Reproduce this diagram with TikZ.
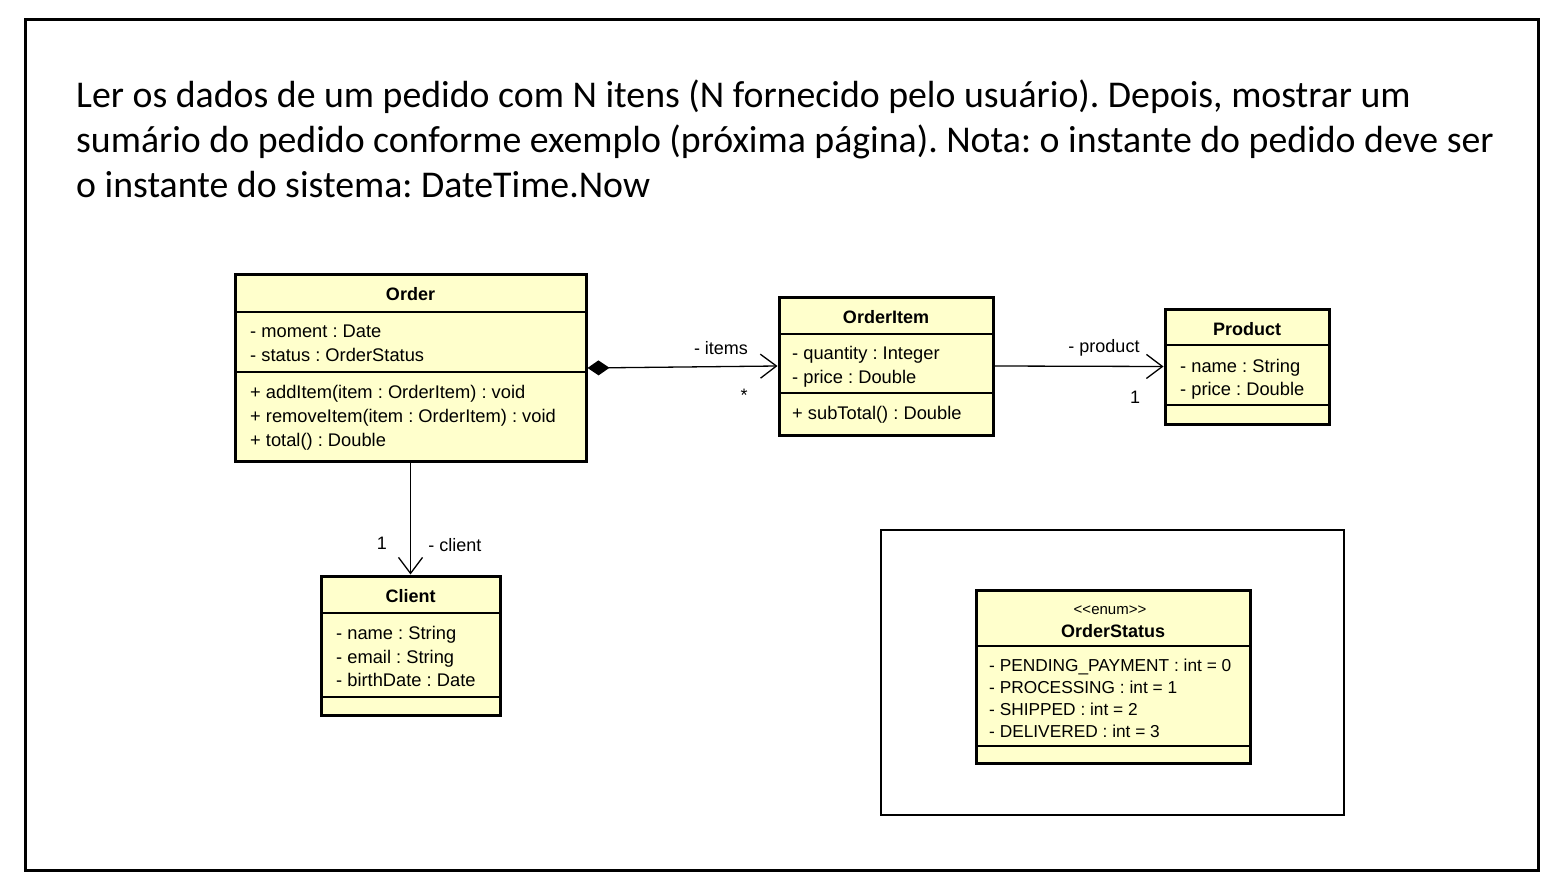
\documentclass[tikz,border=0pt]{standalone}
\usepackage{fontspec}
\setmainfont{Liberation Sans}
\newfontfamily\titlefont{Carlito}
\usetikzlibrary{arrows.meta}
\definecolor{umlfill}{RGB}{255,255,204}
\frenchspacing
\tikzset{
  classbox/.style={draw=black, line width=3pt, fill=umlfill, inner sep=0pt, rectangle},
  sepline/.style={line width=1.2pt},
  ctitle/.style={font=\fontsize{18}{20}\selectfont\bfseries, inner sep=0pt, anchor=base},
  attr/.style={font=\fontsize{18.3}{20}\selectfont, inner sep=0pt, anchor=base west},
  eattr/.style={font=\fontsize{17.3}{19}\selectfont, inner sep=0pt, anchor=base west},
  lbl/.style={font=\fontsize{18}{20}\selectfont, inner sep=0pt, anchor=base},
  assoc/.style={line width=1.3pt, -{Straight Barb[length=16pt,width=24pt,line width=1.3pt]}},
  comp/.style={line width=1.3pt, {Diamond[length=22pt,width=15pt,fill=black]}-{Straight Barb[length=16pt,width=24pt,line width=1.3pt]}},
  hdr/.style={font=\titlefont\fontsize{37.8}{45}\selectfont\frenchspacing, inner sep=0pt, anchor=base west}
}
\begin{document}
\begin{tikzpicture}[x=1pt,y=-1pt]
\useasboundingbox (0,0) rectangle (1552,885);
\fill[white] (0,0) rectangle (1552,885);
\draw[line width=3pt] (25,20) rectangle (1538,870);

% heading
\node[hdr] (h1) at (76,108) {Ler os dados de um pedido com N itens (N fornecido pelo usuário). Depois, mostrar um};
\node[hdr] (h2) at (76,153) {sumário do pedido conforme exemplo (próxima página). Nota: o instante do pedido deve ser};
\node[hdr] (h3) at (76,198) {o instante do sistema: DateTime.Now};

% Order
\node[classbox, minimum width=351pt, minimum height=186pt] (order) at (410.5,368) {};
\draw[sepline] (235,312) -- (586,312);
\draw[sepline] (235,372) -- (586,372);
\node[ctitle] (ot) at (410.5,300) {Order};
\node[attr] (oa1) at (250,337) {- moment : Date};
\node[attr] (oa2) at (250,361) {- status : OrderStatus};
\node[attr] (om1) at (250,398) {+ addItem(item : OrderItem) : void};
\node[attr] (om2) at (250,422) {+ removeItem(item : OrderItem) : void};
\node[attr] (om3) at (250,446) {+ total() : Double};

% OrderItem
\node[classbox, minimum width=214pt, minimum height=138pt] (item) at (886,366) {};
\draw[sepline] (779,334) -- (993,334);
\draw[sepline] (779,393) -- (993,393);
\node[ctitle] (it) at (886,323) {OrderItem};
\node[attr] (ia1) at (792,359) {- quantity : Integer};
\node[attr] (ia2) at (792,383) {- price : Double};
\node[attr] (im1) at (792,419) {+ subTotal() : Double};

% Product
\node[classbox, minimum width=164pt, minimum height=115pt] (product) at (1247,366.5) {};
\draw[sepline] (1165,345) -- (1329,345);
\draw[sepline] (1165,405) -- (1329,405);
\node[ctitle] (pt) at (1247,335) {Product};
\node[attr] (pa1) at (1180,372) {- name : String};
\node[attr] (pa2) at (1180,395) {- price : Double};

% Client
\node[classbox, minimum width=179pt, minimum height=139pt] (client) at (410.5,645.5) {};
\draw[sepline] (321,613) -- (500,613);
\draw[sepline] (321,697) -- (500,697);
\node[ctitle] (ct) at (410.5,602) {Client};
\node[attr] (ca1) at (336,639) {- name : String};
\node[attr] (ca2) at (336,663) {- email : String};
\node[attr] (ca3) at (336,686) {- birthDate : Date};

% OrderStatus frame
\node[draw=black, line width=1.5pt, fill=white, minimum width=463pt, minimum height=285pt, inner sep=0pt] (frame) at (1112.5,672.5) {};
\node[classbox, minimum width=274pt, minimum height=173pt] (status) at (1113,676.5) {};
\draw[sepline] (976,646) -- (1250,646);
\draw[sepline] (976,746) -- (1250,746);
\node[lbl, font=\fontsize{15}{16}\selectfont] (st0) at (1110,614) {{<}{<}enum{>}{>}};
\node[ctitle] (st) at (1113,637) {OrderStatus};
\node[eattr] (sa1) at (989,671) {- PENDING\_PAYMENT : int = 0};
\node[eattr] (sa2) at (989,693) {- PROCESSING : int = 1};
\node[eattr] (sa3) at (989,715) {- SHIPPED : int = 2};
\node[eattr] (sa4) at (989,737) {- DELIVERED : int = 3};

% connectors
\draw[comp] (order.east) -- (item.west);
\node[lbl] (l1) at (721,354) {- items};
\node[lbl] (l2) at (744,401) {*};
\draw[assoc] (item.east) -- (product.west);
\node[lbl] (l3) at (1104,352) {- product};
\node[lbl] (l4) at (1135,403) {1};
\draw[assoc] (order.south) -- (client.north);
\node[lbl] (l5) at (382,549) {1};
\node[lbl] (l6) at (455,551) {- client};
\end{tikzpicture}
\end{document}
